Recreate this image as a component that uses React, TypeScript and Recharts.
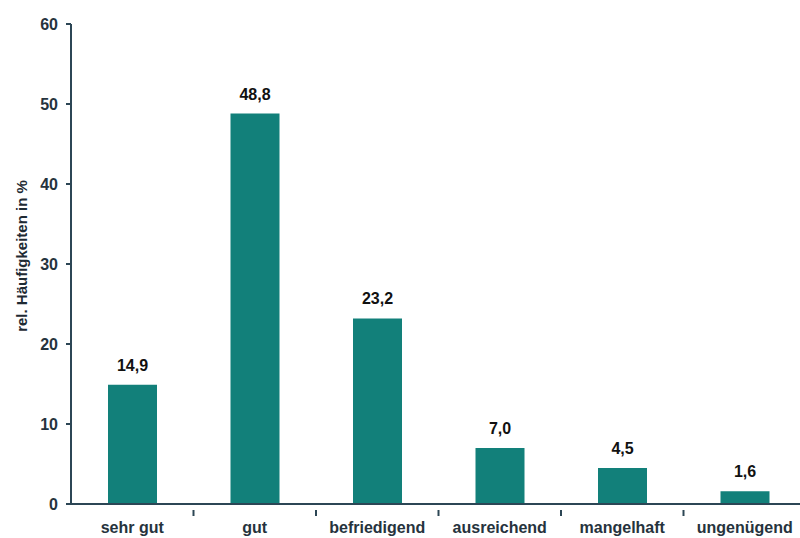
import React from 'react'
import { BarChart, Bar, XAxis, YAxis, LabelList, Label } from 'recharts'

const categories = ['sehr gut', 'gut', 'befriedigend', 'ausreichend', 'mangelhaft', 'ungenügend']
const shares = [14.9, 48.8, 23.2, 7.0, 4.5, 1.6]
const yTicks = [0, 10, 20, 30, 40, 50, 60]

const data = categories.map((grade, i) => ({ grade, share: shares[i] }))

const W = 806
const H = 538
const AXIS_W = 71
const band = (W - AXIS_W) / categories.length
const axisColor = '#2c4655'
const textColor = '#26333d'
const font = '"Liberation Sans", Arial, sans-serif'

function GradeTick(props: any) {
  const { x, y, payload } = props
  return (
    <g>
      <line x1={x + band / 2} x2={x + band / 2} y1={y - 2} y2={y + 4} stroke={axisColor} strokeWidth={2} />
      <text x={x} y={y + 21} textAnchor="middle" fontFamily={font} fontSize={16} fontWeight="bold" fill={textColor}>
        {payload.value}
      </text>
    </g>
  )
}

function YTitle(props: any) {
  const { viewBox } = props
  const cx = 21
  const cy = viewBox.y + viewBox.height / 2 - 8
  return (
    <text
      x={cx}
      y={cy}
      transform={`rotate(-90, ${cx}, ${cy})`}
      textAnchor="middle"
      dominantBaseline="central"
      fontFamily={font}
      fontSize={15}
      fontWeight="bold"
      fill="#1e2a33"
    >
      rel. Häufigkeiten in %
    </text>
  )
}

export default function App() {
  return (
    <div style={{ position: 'absolute', left: 0, top: 0, width: 800, height: H, overflow: 'hidden', background: '#fff' }}>
      <BarChart width={W} height={H} data={data} margin={{ top: 24, right: 0, bottom: 0, left: 0 }}>
        <XAxis
          dataKey="grade"
          height={34}
          axisLine={{ stroke: axisColor, strokeWidth: 2 }}
          tickLine={false}
          tick={<GradeTick />}
          interval={0}
        />
        <YAxis
          width={AXIS_W}
          domain={[0, 60]}
          ticks={yTicks}
          interval={0}
          axisLine={{ stroke: axisColor, strokeWidth: 2 }}
          tickLine={{ stroke: axisColor, strokeWidth: 2 }}
          tickSize={5}
          tickMargin={8}
          tick={{ fontFamily: font, fontSize: 16, fontWeight: 'bold', fill: textColor }}
        >
          <Label content={<YTitle />} />
        </YAxis>
        <Bar dataKey="share" fill="#12807a" barSize={49} isAnimationActive={false}>
          <LabelList
            dataKey="share"
            position="top"
            offset={14}
            formatter={(v: any) => Number(v).toFixed(1).replace('.', ',')}
            style={{ fontFamily: font, fontSize: 16, fontWeight: 'bold', fill: '#111' }}
          />
        </Bar>
      </BarChart>
    </div>
  )
}
